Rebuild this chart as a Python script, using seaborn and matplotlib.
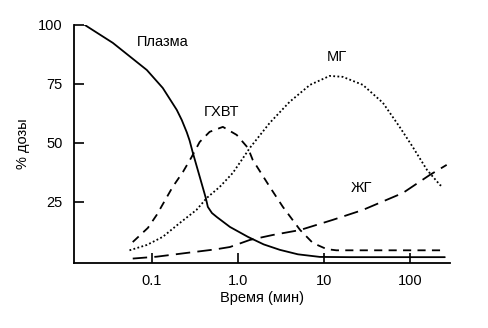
import numpy as np
import pandas as pd
import matplotlib
matplotlib.use("Agg")
import matplotlib.pyplot as plt
import seaborn as sns

# Data (time in minutes, % of dose)
plasma_x = [0.0166, 0.0352, 0.0875, 0.134, 0.195, 0.223, 0.255, 0.275, 0.30, 0.361, 0.424, 0.448, 0.5, 0.57, 0.81, 1.31, 2.0, 3.08, 5.0, 9.0, 20, 255]
plasma_y = [100, 92.4, 80.9, 73.3, 64, 59.7, 54.5, 51, 45.8, 35.6, 26.7, 22.9, 20.3, 18.6, 14.4, 10.2, 7.0, 4.7, 2.8, 1.7, 1.6, 1.6]

ghvt_x = [0.06, 0.09, 0.114, 0.175, 0.23, 0.29, 0.36, 0.47, 0.67, 0.97, 1.31, 1.49, 2.35, 3.34, 5.3, 7.45, 10.8, 14, 255]
ghvt_y = [8, 14, 19.5, 31.4, 37.7, 44, 50.4, 54.7, 56.8, 53.4, 47.9, 42.8, 31.4, 22.9, 13.1, 7.6, 5.0, 4.5, 4.5]

mg_x = [0.055, 0.088, 0.134, 0.21, 0.33, 0.436, 0.617, 0.875, 1.11, 1.38, 2.35, 4.0, 6.9, 11.7, 16.6, 28.4, 48.6, 76, 108, 158, 224, 242]
mg_y = [4.5, 6.8, 10.2, 16, 21.6, 26.7, 31.4, 37.3, 42.8, 47.9, 58.5, 67.4, 74.6, 78.4, 78, 74.6, 67, 56.8, 48.3, 38.6, 32.2, 31.4]

zhg_x = [0.06, 0.114, 0.255, 0.55, 0.81, 1.38, 2.55, 5.3, 12.7, 28.4, 83, 170, 268]
zhg_y = [1.0, 1.8, 3.4, 4.9, 5.9, 8.9, 11, 13.1, 17.4, 21.6, 28.8, 36.4, 40.7]

series_names = ["Плазма", "ГХВТ", "МГ", "ЖГ"]
x_ticks = [0.1, 1.0, 10, 100]
x_ticklabels = ["0.1", "1.0", "10", "100"]
y_ticks = [25, 50, 75, 100]

frames = []
for name, xs, ys in zip(series_names, [plasma_x, ghvt_x, mg_x, zhg_x], [plasma_y, ghvt_y, mg_y, zhg_y]):
    frames.append(pd.DataFrame({"t": xs, "dose": ys, "series": name}))
df = pd.concat(frames, ignore_index=True)

sns.set_theme(style="ticks")
plt.rcParams["font.family"] = ["Liberation Sans", "DejaVu Sans"]
plt.rcParams["text.color"] = "black"
plt.rcParams["axes.labelcolor"] = "black"

fig = plt.figure(figsize=(4.89, 3.28), dpi=100)
ax = fig.add_axes([0.151, 0.198, 0.769, 0.726])

dashes = {"Плазма": "", "ГХВТ": (4.5, 3.5), "МГ": (1.0, 1.3), "ЖГ": (8.0, 4.0)}
sns.lineplot(data=df, x="t", y="dose", hue="series", style="series",
             palette={n: "black" for n in series_names}, dashes=dashes,
             linewidth=1.3, legend=False, sort=False, ax=ax, estimator=None)

ax.set_xscale("log")
ax.set_xlim(0.0124, 292)
ax.set_ylim(-0.9, 100)
ax.set_xticks(x_ticks)
ax.set_xticklabels(x_ticklabels)
ax.minorticks_off()
ax.set_yticks(y_ticks)
ax.tick_params(direction="in", length=7, width=1.2, labelsize=10.5, colors="black", pad=8)
sns.despine(ax=ax)
for s in ["left", "bottom"]:
    ax.spines[s].set_linewidth(1.3)
    ax.spines[s].set_color("black")

ax.set_xlabel("Время (мин)", fontsize=10.5, labelpad=2, color="black")
ax.set_ylabel("% дозы", fontsize=10.5, labelpad=6, color="black")

ax.text(0.134, 92.8, "Плазма", ha="center", va="center", fontsize=10.5, color="black")
ax.text(0.65, 63, "ГХВТ", ha="center", va="center", fontsize=10.5, color="black")
ax.text(14.1, 86.4, "МГ", ha="center", va="center", fontsize=10.5, color="black")
ax.text(27.6, 31, "ЖГ", ha="center", va="center", fontsize=10.5, color="black")

fig.savefig("out.png", dpi=100, facecolor="white")
